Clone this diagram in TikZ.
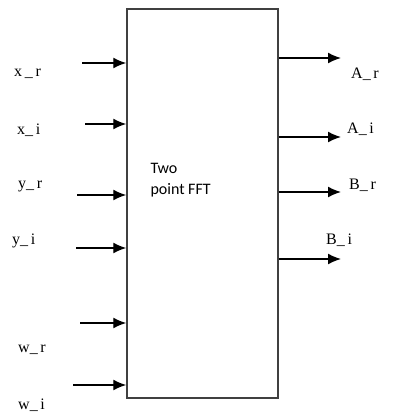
\documentclass[tikz,border=0pt]{standalone}
\usepackage{fontspec}
\setmainfont{Liberation Serif}
\newfontfamily\boxfont{Carlito}
\usetikzlibrary{
	arrows.meta,                % For Latex arrows
	positioning,
	calc
}
\tikzset{
	fftbox/.style={
		draw=black!75,
		line width=1.5pt,
		minimum width=151bp,
		minimum height=389bp,
		inner sep=0pt
	},
	sig/.style={
		-{Latex[length=13bp,width=11bp]},
		line width=1.5pt
	},
	lbl/.style={
		inner sep=0pt,
		font=\fontsize{16bp}{18bp}\selectfont
	}
}

\begin{document}
\begin{tikzpicture}[x=1bp, y=-1bp]
		\useasboundingbox (0,0) rectangle (395,414);
		
		% Main block
		\node [fftbox] (fft) at (202.5,203.5) {};
		\node [anchor=north west, align=left, font=\boxfont\fontsize{16bp}{21bp}\selectfont] (fftlabel) at (147,160) {Two\\point FFT};
		
		% Input start points
		\coordinate (xr) at (82,63);
		\coordinate (xi) at (85,124);
		\coordinate (yr) at (77,195);
		\coordinate (yi) at (76,248);
		\coordinate (wr) at (80,323);
		\coordinate (wi) at (73,385);
		
		% Output end points
		\coordinate (ar) at (341,58);
		\coordinate (ai) at (341,137);
		\coordinate (br) at (341,192);
		\coordinate (bi) at (341,259);
		
		% Input labels
		\node [lbl, anchor=west] (xrl) at (14,74) {x\,\_\,r};
		\node [lbl, anchor=west] (xil) at (17,130) {x\_\,i};
		\node [lbl, anchor=west] (yrl) at (18,186) {y\_\,r};
		\node [lbl, anchor=west] (yil) at (12,241) {y\_\,i};
		\node [lbl, anchor=west] (wrl) at (18,350) {w\_\,r};
		\node [lbl, anchor=west] (wil) at (18,405) {w\_\,i};
		
		% Output labels
		\node [lbl, anchor=west] (arl) at (351,74) {A\_\,r};
		\node [lbl, anchor=west] (ail) at (347,129) {A\_\,i};
		\node [lbl, anchor=west] (brl) at (349,185) {B\_\,r};
		\node [lbl, anchor=west] (bil) at (326,240) {B\_\,i};
		
		% Inputs into the block
		\foreach \s in {xr,xi,yr,yi,wr,wi}
			\draw [sig] (\s) -- (\s -| fft.west);
		
		% Outputs from the block
		\foreach \s in {ar,ai,br,bi}
			\draw [sig] (\s -| fft.east) -- (\s);
\end{tikzpicture}
\end{document}
